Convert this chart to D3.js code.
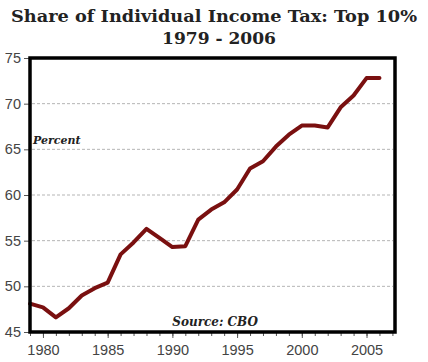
<!DOCTYPE html>
<html>
<head>
<meta charset="utf-8">
<script src="https://cdn.jsdelivr.net/npm/d3@7"></script>
<style>
  body { margin: 0; background: #fff; }
  .tick text { font-family: "Liberation Sans", Arial, sans-serif; fill: #444; }
</style>
</head>
<body>
<script>
const years = d3.range(1979, 2007);
const shares = [48.1, 47.7, 46.6, 47.6, 49.0, 49.8, 50.4, 53.5, 54.8, 56.3, 55.3, 54.3, 54.4,
                57.3, 58.4, 59.2, 60.6, 62.9, 63.7, 65.3, 66.6, 67.6, 67.6, 67.4, 69.6, 70.9, 72.8, 72.8];
const yTicks = [45, 50, 55, 60, 65, 70, 75];
const xTicks = [1980, 1985, 1990, 1995, 2000, 2005];

const W = 428, H = 362;
const margin = {top: 58, right: 33, bottom: 30, left: 30};
const width = W - margin.left - margin.right;
const height = H - margin.top - margin.bottom;

const svg = d3.select("body").append("svg")
    .attr("width", W)
    .attr("height", H);

// titles
svg.append("text")
    .attr("x", W / 2).attr("y", 22)
    .attr("text-anchor", "middle")
    .style("font-family", "'DejaVu Serif', Georgia, serif")
    .style("font-weight", "bold")
    .style("font-size", "17.5px")
    .attr("textLength", 406)
    .attr("lengthAdjust", "spacingAndGlyphs")
    .attr("fill", "#222")
    .text("Share of Individual Income Tax: Top 10%");
svg.append("text")
    .attr("x", W / 2 + 5).attr("y", 44)
    .attr("text-anchor", "middle")
    .style("font-family", "'DejaVu Serif', Georgia, serif")
    .style("font-weight", "bold")
    .style("font-size", "17.5px")
    .attr("textLength", 114)
    .attr("lengthAdjust", "spacingAndGlyphs")
    .attr("fill", "#222")
    .text("1979 - 2006");

const g = svg.append("g")
    .attr("transform", "translate(" + margin.left + "," + margin.top + ")");

const x = d3.scaleLinear().domain([1979, 2007.2]).range([0, width]);
const y = d3.scaleLinear().domain([45, 75]).range([height, 0]);

// gridlines
g.selectAll(".grid").data(yTicks.filter(d => d > 45 && d < 75)).enter().append("line")
    .attr("class", "grid")
    .attr("x1", 2).attr("x2", width - 2)
    .attr("y1", d => y(d)).attr("y2", d => y(d))
    .attr("stroke", "#b5b5b5")
    .attr("stroke-width", 1)
    .attr("stroke-dasharray", "3,2");

// y axis
const yAxis = d3.axisLeft(y).tickValues(yTicks).tickSize(6).tickPadding(3);
g.append("g").call(yAxis)
    .call(a => a.select(".domain").remove())
    .call(a => a.selectAll(".tick line").attr("stroke", "#555"))
    .call(a => a.selectAll(".tick text").style("font-size", "14.5px"));

// x axis: minor ticks each year, labels every five
const xAxisMinor = d3.axisBottom(x).tickValues(d3.range(1979, 2008)).tickSize(4).tickFormat("");
g.append("g").attr("transform", "translate(0," + height + ")").call(xAxisMinor)
    .call(a => a.select(".domain").remove())
    .call(a => a.selectAll(".tick line").attr("stroke", "#555"));
const xAxis = d3.axisBottom(x).tickValues(xTicks).tickSize(6).tickPadding(7).tickFormat(d3.format("d"));
g.append("g").attr("transform", "translate(0," + height + ")").call(xAxis)
    .call(a => a.select(".domain").remove())
    .call(a => a.selectAll(".tick line").attr("stroke", "#555"))
    .call(a => a.selectAll(".tick text").style("font-size", "14.5px"));

// data line
const line = d3.line()
    .x((d, i) => x(years[i]))
    .y(d => y(d));
g.append("path")
    .datum(shares)
    .attr("d", line)
    .attr("fill", "none")
    .attr("stroke", "#7a1010")
    .attr("stroke-width", 4)
    .attr("stroke-linejoin", "round")
    .attr("stroke-linecap", "round");

// frame
g.append("rect")
    .attr("x", 0).attr("y", 0)
    .attr("width", width).attr("height", height)
    .attr("fill", "none")
    .attr("stroke", "#000")
    .attr("stroke-width", 3.5);

// annotations
g.append("text")
    .attr("x", 3).attr("y", y(65.55))
    .style("font-family", "'DejaVu Serif', Georgia, serif")
    .style("font-style", "italic").style("font-weight", "bold")
    .style("font-size", "11px")
    .attr("fill", "#222")
    .text("Percent");
g.append("text")
    .attr("x", x(1993.3)).attr("y", height - 6)
    .attr("text-anchor", "middle")
    .style("font-family", "'DejaVu Serif', Georgia, serif")
    .style("font-style", "italic").style("font-weight", "bold")
    .style("font-size", "12px")
    .attr("fill", "#222")
    .text("Source: CBO");
</script>
</body>
</html>
